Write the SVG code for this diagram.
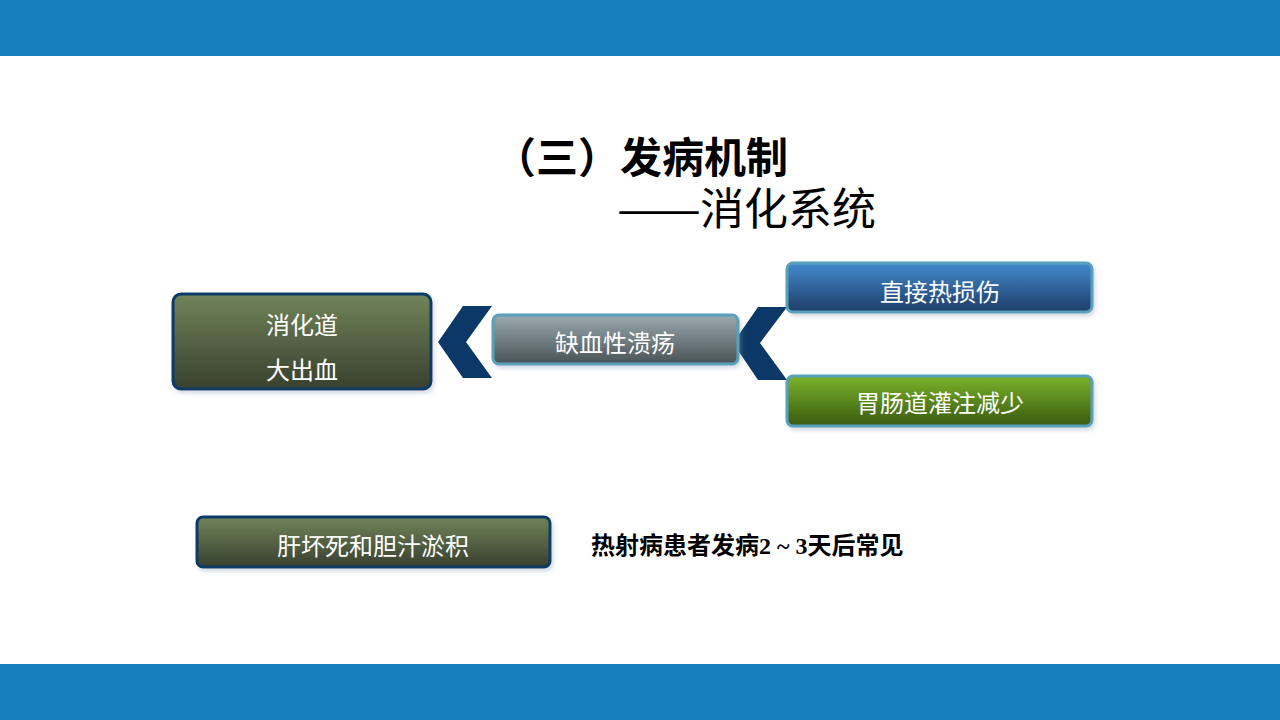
<svg xmlns="http://www.w3.org/2000/svg" width="1280" height="720" viewBox="0 0 1280 720">
<defs>
<linearGradient id="gOlive" x1="0" y1="0" x2="0" y2="1"><stop offset="0" stop-color="#718459"/><stop offset="1" stop-color="#38402f"/></linearGradient>
<linearGradient id="gGray" x1="0" y1="0" x2="0" y2="1"><stop offset="0" stop-color="#9aaab0"/><stop offset="1" stop-color="#495356"/></linearGradient>
<linearGradient id="gBlue" x1="0" y1="0" x2="0" y2="1"><stop offset="0" stop-color="#438ace"/><stop offset="1" stop-color="#1e3d68"/></linearGradient>
<linearGradient id="gGreen" x1="0" y1="0" x2="0" y2="1"><stop offset="0" stop-color="#7ab32a"/><stop offset="1" stop-color="#395910"/></linearGradient>
<filter id="sh" x="-5%" y="-10%" width="110%" height="130%"><feDropShadow dx="2" dy="3" stdDeviation="2" flood-color="#8a9bb0" flood-opacity="0.35"/></filter>
</defs>
<style>
.bar{fill:#167fba}
.navy{stroke:#0d3a68;stroke-width:3}
.teal{stroke:#58a0bb;stroke-width:3}
.lbl{font-family:"Noto Sans CJK SC",sans-serif;font-size:24px;fill:#ffffff;text-anchor:middle}
.chev{fill:#0b3866}
</style>
<rect class="bar" x="0" y="0" width="1280" height="56"/>
<rect class="bar" x="0" y="664" width="1280" height="56"/>
<g id="title">
<text x="494" y="173" font-family="'Noto Sans CJK SC',sans-serif" font-size="42" font-weight="bold" fill="#000">（三）发病机制</text>
<text y="225" font-family="'Noto Sans CJK SC',sans-serif" font-size="44" fill="#000"><tspan x="617" textLength="84" lengthAdjust="spacingAndGlyphs">——</tspan><tspan x="700">消化系统</tspan></text>
</g>
<g id="connectors">
<polygon class="chev" points="463,306 492,306 466,342 492,378 463,378 438,342"/>
<polygon class="chev" points="758,307 787,307 760,343 787,380 758,380 733,343"/>
</g>
<g id="node-bleeding">
<rect x="173" y="294" width="258" height="95" rx="8" fill="url(#gOlive)" class="navy" filter="url(#sh)"/>
<text class="lbl" x="302" y="334">消化道</text>
<text class="lbl" x="302" y="379">大出血</text>
</g>
<g id="node-ulcer">
<rect x="493" y="315" width="245" height="49" rx="6" fill="url(#gGray)" class="teal" filter="url(#sh)"/>
<text class="lbl" x="615" y="352">缺血性溃疡</text>
</g>
<g id="node-heat">
<rect x="787" y="263" width="305" height="49" rx="6" fill="url(#gBlue)" class="teal" filter="url(#sh)"/>
<text class="lbl" x="940" y="301">直接热损伤</text>
</g>
<g id="node-perfusion">
<rect x="787" y="376" width="305" height="50" rx="6" fill="url(#gGreen)" class="teal" filter="url(#sh)"/>
<text class="lbl" x="940" y="412">胃肠道灌注减少</text>
</g>
<g id="node-liver">
<rect x="197" y="517" width="353" height="50" rx="6" fill="url(#gOlive)" class="navy" filter="url(#sh)"/>
<text class="lbl" x="373" y="555">肝坏死和胆汁淤积</text>
</g>
<g id="note">
<text x="591" y="554" font-family="'Liberation Serif','Noto Sans CJK SC',serif" font-size="24" font-weight="bold" fill="#000">热射病患者发病2 ~ 3天后常见</text>
</g>
</svg>
